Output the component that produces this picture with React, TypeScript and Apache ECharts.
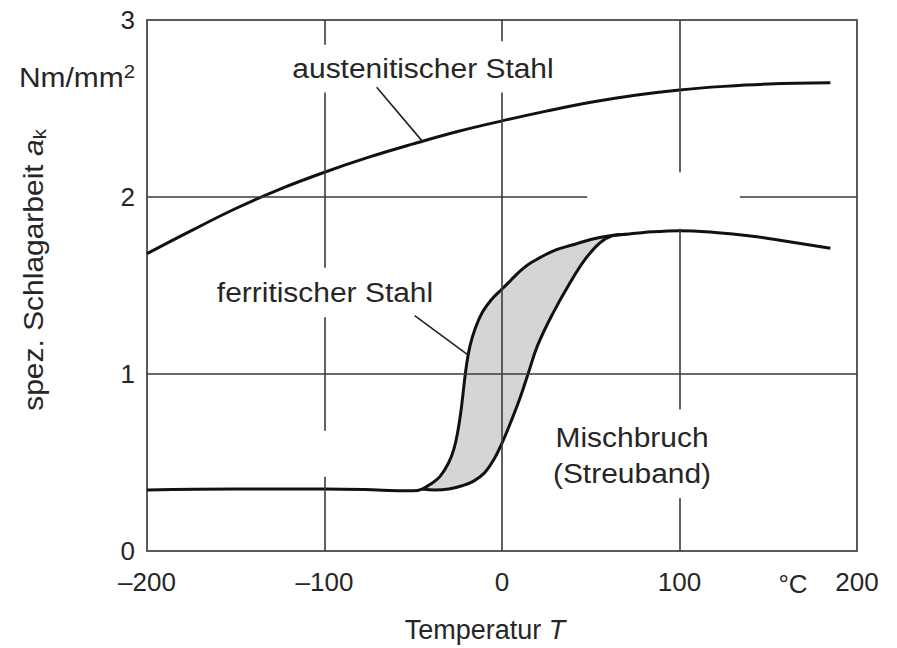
import React, { useEffect, useRef } from "react";
import * as echarts from "echarts";

// ---- data ----
const xTicks = [-200, -100, 0, 100, 200];
const yTicks = [0, 1, 2, 3];

// austenitischer Stahl
const austT = [-200, -175, -150, -125, -100, -75, -50, -25, 0, 25, 50, 75, 100, 125, 150, 185];
const austV = [1.68, 1.81, 1.935, 2.045, 2.14, 2.225, 2.3, 2.37, 2.43, 2.485, 2.535, 2.575, 2.605, 2.625, 2.638, 2.645];

// ferritischer Stahl (upper bound of scatter band + plateaus)
const ferrT = [-200, -150, -100, -70, -55, -50, -45, -40, -35, -30, -27, -25, -23, -21.5, -20, -18, -15, -11, -6, 0, 5, 10, 15, 20, 30, 40, 50, 60, 70, 80, 100, 120, 140, 160, 185];
const ferrV = [0.345, 0.35, 0.35, 0.345, 0.34, 0.34, 0.35, 0.38, 0.42, 0.5, 0.58, 0.67, 0.8, 0.93, 1.05, 1.16, 1.26, 1.35, 1.42, 1.48, 1.53, 1.58, 1.62, 1.65, 1.7, 1.73, 1.76, 1.78, 1.79, 1.8, 1.81, 1.8, 1.78, 1.75, 1.71];

// lower bound of scatter band (Mischbruch)
const lowT = [-45, -38, -30, -22, -16, -10, -5, 0, 5, 10, 15, 20, 28, 38, 47, 55, 62, 70];
const lowV = [0.35, 0.345, 0.35, 0.37, 0.395, 0.44, 0.51, 0.61, 0.73, 0.86, 1.01, 1.16, 1.33, 1.51, 1.65, 1.74, 1.78, 1.79];

// leader lines for labels
const leaderAust = [[-70.6, 2.62], [-45.3, 2.32]];
const leaderFerr = [[-49.2, 1.33], [-19.4, 1.11]];

// grid line segments (x1, y1, x2, y2) in data units
const gridSegs = [
  [-100, 3, -100, 2.86], [-100, 2.59, -100, 1.6], [-100, 1.32, -100, 0.68], [-100, 0.42, -100, 0],
  [0, 3, 0, 2.88], [0, 2.59, 0, 0],
  [100, 3, 100, 2.14], [100, 1.82, 100, 0.8], [100, 0.3, 100, 0],
  [-200, 2, 48, 2], [134, 2, 200, 2],
  [-200, 1, 200, 1],
];

const FONT = "'Liberation Sans', Arial, Helvetica, sans-serif";
const TXT = "#262626";
const SMOOTH = 0.4;

export default function App() {
  const ref = useRef<HTMLDivElement>(null);
  useEffect(() => {
    if (!ref.current) return;
    const chart = echarts.init(ref.current, null, { renderer: "svg" });

    const bandUpper: number[][] = [];
    ferrT.forEach((t, i) => {
      if (t >= lowT[0] && t <= lowT[lowT.length - 1]) bandUpper.push([t, ferrV[i]]);
    });
    const bandLower = lowT.map((t, i) => [t, lowV[i]]);

    const annot = (text: string, x: number, y: number) => ({
      type: "text", x, y, scaleX: 1.07, silent: true,
      style: { text, fontSize: 28, fontFamily: FONT, fill: TXT, align: "center", verticalAlign: "middle" },
    });

    const option: any = {
      animation: false,
      grid: { left: 147, right: 40, top: 20, bottom: 97, show: true, borderColor: "#5a5a5a", borderWidth: 2, backgroundColor: "transparent" },
      xAxis: {
        type: "value", min: xTicks[0], max: xTicks[xTicks.length - 1], interval: 100,
        axisLine: { show: false }, axisTick: { show: false }, splitLine: { show: false },
        axisLabel: {
          fontSize: 26, color: TXT, fontFamily: FONT, margin: 18,
          formatter: (v: number) => (v < 0 ? "\u2013" + Math.abs(v) : String(v)),
        },
      },
      yAxis: {
        type: "value", min: yTicks[0], max: yTicks[yTicks.length - 1], interval: 1,
        axisLine: { show: false }, axisTick: { show: false }, splitLine: { show: false },
        axisLabel: { fontSize: 26, color: TXT, fontFamily: FONT, margin: 12 },
      },
      series: [
        {
          type: "custom", coordinateSystem: "cartesian2d", data: [[0, 0]], z: 1, silent: true,
          renderItem: (_p: any, api: any) => {
            const pts: number[][] = [];
            bandUpper.forEach((p) => pts.push(api.coord(p)));
            for (let i = bandLower.length - 1; i >= 0; i--) pts.push(api.coord(bandLower[i]));
            return { type: "polygon", shape: { points: pts, smooth: 0.3 }, style: { fill: "#d5d5d5", stroke: null } };
          },
        },
        {
          type: "line", data: [], z: 2, silent: true,
          markLine: {
            silent: true, symbol: "none", animation: false,
            label: { show: false },
            lineStyle: { color: "#3a3a3a", width: 1.6, type: "solid" },
            data: gridSegs.map((s) => [{ coord: [s[0], s[1]] }, { coord: [s[2], s[3]] }]),
          },
        },
        {
          type: "line", data: austT.map((t, i) => [t, austV[i]]), z: 3, showSymbol: false, smooth: SMOOTH,
          lineStyle: { color: "#111", width: 3 }, silent: true,
        },
        {
          type: "line", data: ferrT.map((t, i) => [t, ferrV[i]]), z: 3, showSymbol: false, smooth: SMOOTH,
          lineStyle: { color: "#111", width: 3 }, silent: true,
        },
        {
          type: "line", data: bandLower, z: 3, showSymbol: false, smooth: SMOOTH,
          lineStyle: { color: "#111", width: 3 }, silent: true,
        },
        {
          type: "line", data: leaderAust, z: 3, showSymbol: false,
          lineStyle: { color: "#222", width: 1.6 }, silent: true,
        },
        {
          type: "line", data: leaderFerr, z: 3, showSymbol: false,
          lineStyle: { color: "#222", width: 1.6 }, silent: true,
        },
      ],
      graphic: [
        {
          type: "text", x: 33, y: 270, rotation: Math.PI / 2, scaleX: 1.07, silent: true,
          style: {
            text: "spez. Schlagarbeit {i|a}{sub|k}",
            fontSize: 28, fontFamily: FONT, fill: TXT, align: "center", verticalAlign: "middle",
            rich: {
              i: { fontSize: 28, fontStyle: "italic", fontFamily: FONT, fill: TXT, lineHeight: 31 },
              sub: { fontSize: 19, fontFamily: FONT, fill: TXT, verticalAlign: "bottom", lineHeight: 31 },
            },
          },
        },
        {
          type: "text", x: 135, y: 77, scaleX: 1.07, silent: true,
          style: {
            text: "Nm/mm{sup|2}", fontSize: 28, fontFamily: FONT, fill: TXT, align: "right", verticalAlign: "middle",
            rich: { sup: { fontSize: 19, fontFamily: FONT, fill: TXT, verticalAlign: "top", lineHeight: 31 } },
          },
        },
        {
          type: "text", x: 485, y: 630, silent: true,
          style: {
            text: "Temperatur {i|T}", fontSize: 27, fontFamily: FONT, fill: TXT, align: "center", verticalAlign: "middle",
            rich: { i: { fontSize: 27, fontStyle: "italic", fontFamily: FONT, fill: TXT } },
          },
        },
        { type: "text", x: 793, y: 584, silent: true, style: { text: "°C", fontSize: 26, fontFamily: FONT, fill: TXT, align: "center", verticalAlign: "middle" } },
        annot("austenitischer Stahl", 423, 68),
        annot("ferritischer Stahl", 325, 292),
        annot("Mischbruch", 632, 437),
        annot("(Streuband)", 632, 473),
      ],
    };
    chart.setOption(option);
    return () => chart.dispose();
  }, []);
  return (
    <div
      ref={ref}
      style={{ position: "fixed", left: 0, top: 0, width: 897, height: 648, background: "#fff" }}
    />
  );
}
